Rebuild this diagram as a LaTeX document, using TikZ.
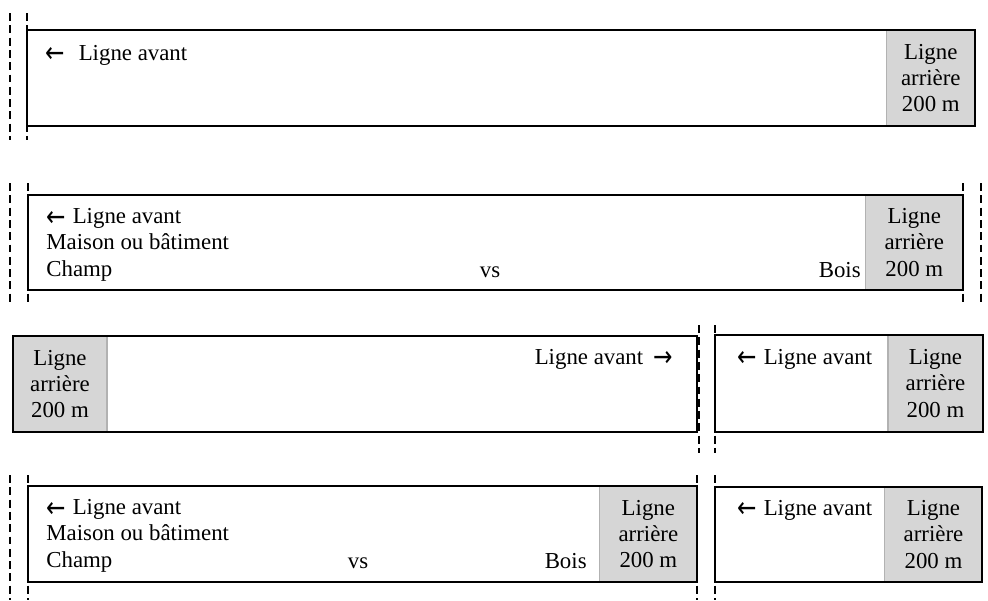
\documentclass[tikz,border=0pt]{standalone}
\usepackage{fontspec}
\setmainfont{Liberation Serif}
\newfontfamily\arrowfont{DejaVu Sans}
\usepackage{graphicx}
\usepackage{tikz}
\usetikzlibrary{positioning, calc, backgrounds}
\newcommand{\striptext}{\fontsize{13}{15}\selectfont}
\newcommand{\toleft}{\raisebox{-1.6pt}{\scalebox{1.1}[1.35]{\arrowfont\fontsize{12}{15}\selectfont ←}}}
\newcommand{\toright}{\raisebox{-1.6pt}{\scalebox{1.1}[1.35]{\arrowfont\fontsize{12}{15}\selectfont →}}}
\tikzset{
  stripbox/.style={
    draw, line width=1pt, inner sep=0pt, outer sep=0pt, anchor=north west
  },
  backcell/.style={
    draw=gray!60, line width=0.6pt, fill=gray!32, inner sep=0pt,
    outer sep=0pt, align=center, font=\striptext
  },
  striplabel/.style={
    inner sep=0pt, font=\striptext, anchor=base west
  },
  stripnote/.style={
    inner sep=0pt, font=\striptext, align=left, anchor=north west
  },
  stripcut/.style={
    line width=1.1pt, dash pattern=on 4.5pt off 2.5pt
  },
}

\begin{document}
\begin{tikzpicture}[x=0.02cm, y=-0.02cm]
  \useasboundingbox (0,0) rectangle (988,600);

  % ── Row 1 ──
  \node[stripbox, minimum width=18.96cm, minimum height=1.92cm]
    (strip1) at (27,30) {};
  \begin{scope}[on background layer]
    \node[backcell, minimum width=1.76cm, minimum height=1.92cm,
      anchor=north east] (back1) at (strip1.north east)
      {Ligne\\arrière\\200 m};
  \end{scope}
  \node[striplabel] (front1) at (45,60) {\toleft\hspace{0.28cm}Ligne avant};
  \draw[stripcut] (10,13) -- (10,140);
  \draw[stripcut] (27,13) -- (27,140);

  % ── Row 2 ──
  \node[stripbox, minimum width=18.70cm, minimum height=1.90cm]
    (strip2) at (28,195) {};
  \begin{scope}[on background layer]
    \node[backcell, minimum width=1.94cm, minimum height=1.90cm,
      anchor=north east] (back2) at (strip2.north east)
      {Ligne\\arrière\\200 m};
  \end{scope}
  \node[stripnote] (front2) at (46,208)
    {\toleft\hspace{0.14cm}Ligne avant\\Maison ou bâtiment\\Champ};
  \node[striplabel, anchor=base] (vs2) at (490,277) {vs};
  \node[striplabel, anchor=base east] (wood2) at (861,277) {Bois};
  \draw[stripcut] (10,183) -- (10,303);
  \draw[stripcut] (28,183) -- (28,303);
  \draw[stripcut] (963,183) -- (963,303);
  \draw[stripcut] (981,183) -- (981,303);

  % ── Row 3 ──
  \node[stripbox, minimum width=13.68cm, minimum height=1.92cm]
    (strip3a) at (13,336) {};
  \node[stripbox, minimum width=5.36cm, minimum height=1.94cm]
    (strip3b) at (715,335) {};
  \begin{scope}[on background layer]
    \node[backcell, minimum width=1.88cm, minimum height=1.92cm,
      anchor=north west] (back3a) at (strip3a.north west)
      {Ligne\\arrière\\200 m};
    \node[backcell, minimum width=1.90cm, minimum height=1.94cm,
      anchor=north east] (back3b) at (strip3b.north east)
      {Ligne\\arrière\\200 m};
  \end{scope}
  \node[striplabel, anchor=base east] (front3a) at (673,364)
    {Ligne avant\hspace{0.2cm}\toright};
  \node[striplabel] (front3b) at (737,364) {\toleft\hspace{0.14cm}Ligne avant};
  \draw[stripcut] (699,325) -- (699,453);
  \draw[stripcut] (715,325) -- (715,453);

  % ── Row 4 ──
  \node[stripbox, minimum width=13.38cm, minimum height=1.92cm]
    (strip4a) at (28,486) {};
  \node[stripbox, minimum width=5.34cm, minimum height=1.90cm]
    (strip4b) at (715,487) {};
  \begin{scope}[on background layer]
    \node[backcell, minimum width=1.94cm, minimum height=1.92cm,
      anchor=north east] (back4a) at (strip4a.north east)
      {Ligne\\arrière\\200 m};
    \node[backcell, minimum width=1.94cm, minimum height=1.90cm,
      anchor=north east] (back4b) at (strip4b.north east)
      {Ligne\\arrière\\200 m};
  \end{scope}
  \node[stripnote] (front4a) at (46,499)
    {\toleft\hspace{0.14cm}Ligne avant\\Maison ou bâtiment\\Champ};
  \node[striplabel, anchor=base] (vs4) at (358,568) {vs};
  \node[striplabel, anchor=base east] (wood4) at (587,568) {Bois};
  \node[striplabel] (front4b) at (737,515) {\toleft\hspace{0.14cm}Ligne avant};
  \draw[stripcut] (10,475) -- (10,600);
  \draw[stripcut] (28,475) -- (28,600);
  \draw[stripcut] (697,475) -- (697,600);
  \draw[stripcut] (715,475) -- (715,600);
\end{tikzpicture}
\end{document}
